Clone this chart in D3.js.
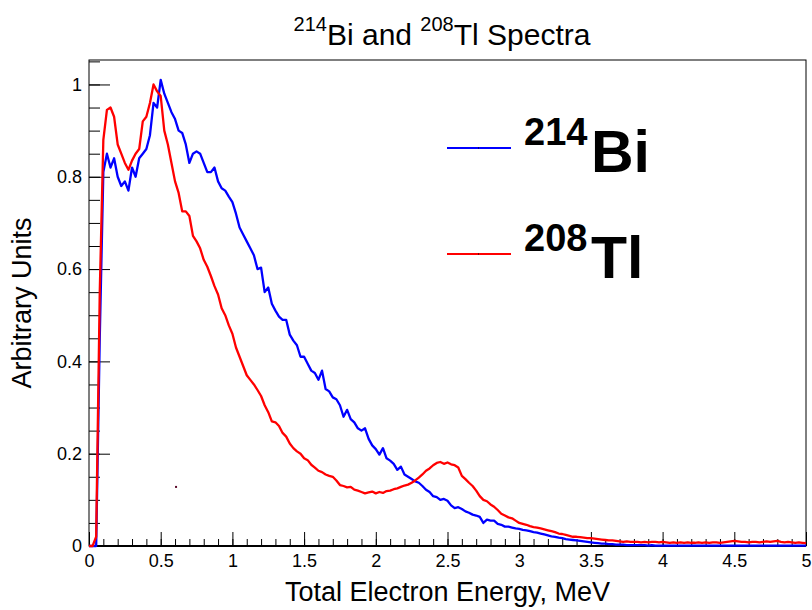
<!DOCTYPE html>
<html lang="en">
<head>
<meta charset="utf-8">
<title>214Bi and 208Tl Spectra</title>
<script src="https://cdn.jsdelivr.net/npm/d3@7"></script>
<style>
  body { margin: 0; background: #fff; }
  text { font-family: "Liberation Sans", Arial, Helvetica, sans-serif; fill: #000; }
</style>
</head>
<body>
<div id="chart"></div>
<script>
// histogram bin spacing (MeV)
const binWidth = 0.025;

// 214Bi, one value per bin starting at 0 MeV
const biValues = [
  0, 0, 0, 0.45, 0.81, 0.85, 0.82, 0.84, 0.80, 0.78,
  0.79, 0.77, 0.82, 0.80, 0.84, 0.85, 0.86, 0.89, 0.96, 0.95,
  1.01, 0.98, 0.96, 0.94, 0.925, 0.90, 0.895, 0.87, 0.83, 0.85,
  0.855, 0.85, 0.83, 0.81, 0.81, 0.82, 0.79, 0.775, 0.77, 0.757,
  0.745, 0.72, 0.69, 0.675, 0.66, 0.645, 0.63, 0.60, 0.603, 0.55,
  0.56, 0.525, 0.51, 0.497, 0.49, 0.49, 0.458, 0.445, 0.435, 0.41,
  0.41, 0.395, 0.38, 0.375, 0.36, 0.38, 0.34, 0.335, 0.322, 0.318,
  0.305, 0.28, 0.295, 0.275, 0.268, 0.255, 0.25, 0.255, 0.232, 0.218,
  0.21, 0.198, 0.212, 0.19, 0.185, 0.178, 0.165, 0.172, 0.155, 0.15,
  0.145, 0.14, 0.137, 0.13, 0.122, 0.117, 0.108, 0.106, 0.10, 0.102,
  0.098, 0.088, 0.082, 0.084, 0.08, 0.075, 0.072, 0.068, 0.066, 0.063,
  0.05, 0.057, 0.055, 0.055, 0.048, 0.046, 0.042, 0.042, 0.04, 0.038,
  0.037, 0.035, 0.034, 0.032, 0.03, 0.029, 0.027, 0.025, 0.023, 0.021,
  0.02, 0.018, 0.017, 0.015, 0.014, 0.013, 0.012, 0.011, 0.010, 0.009,
  0.008, 0.007, 0.006, 0.005, 0.005, 0.004, 0.004, 0.003, 0.003, 0.003,
  0.002, 0.002, 0.002, 0.002, 0.002, 0.002, 0.001, 0.002, 0.001, 0.001,
  0.001, 0.001, 0.001, 0.001, 0.001, 0.001, 0.001, 0.001, 0.001, 0.001,
  0.001, 0.001, 0.001, 0.001, 0.001, 0.001, 0.001, 0.001, 0.001, 0.001,
  0.001, 0.001, 0.001, 0.001, 0.001, 0.001, 0.001, 0.001, 0.001, 0.001,
  0.001, 0.001, 0.001, 0.001, 0.001, 0.001, 0.001, 0.001, 0.001, 0.001,
  0.001
];

// 208Tl
const tlValues = [
  0, 0, 0.02, 0.55, 0.88, 0.945, 0.95, 0.93, 0.87, 0.85,
  0.83, 0.815, 0.835, 0.85, 0.86, 0.92, 0.93, 0.96, 1.0, 0.985,
  0.975, 0.90, 0.87, 0.83, 0.79, 0.765, 0.725, 0.725, 0.715, 0.672,
  0.66, 0.645, 0.62, 0.605, 0.585, 0.563, 0.545, 0.515, 0.50, 0.478,
  0.46, 0.43, 0.41, 0.39, 0.37, 0.36, 0.35, 0.338, 0.325, 0.305,
  0.29, 0.27, 0.268, 0.26, 0.245, 0.237, 0.222, 0.212, 0.205, 0.20,
  0.19, 0.186, 0.176, 0.17, 0.163, 0.16, 0.155, 0.152, 0.15, 0.142,
  0.132, 0.13, 0.127, 0.128, 0.122, 0.12, 0.117, 0.114, 0.116, 0.118,
  0.114, 0.117, 0.115, 0.119, 0.12, 0.123, 0.125, 0.128, 0.131, 0.133,
  0.137, 0.142, 0.148, 0.155, 0.163, 0.168, 0.175, 0.18, 0.182, 0.178,
  0.181, 0.177, 0.175, 0.17, 0.152, 0.145, 0.137, 0.13, 0.12, 0.108,
  0.10, 0.097, 0.09, 0.085, 0.078, 0.07, 0.066, 0.062, 0.06, 0.055,
  0.05, 0.048, 0.046, 0.043, 0.041, 0.04, 0.038, 0.036, 0.034, 0.032,
  0.03, 0.027, 0.026, 0.024, 0.022, 0.02, 0.02, 0.019, 0.018, 0.017,
  0.017, 0.016, 0.015, 0.014, 0.013, 0.012, 0.012, 0.011, 0.01, 0.009,
  0.01, 0.009, 0.009, 0.009, 0.008, 0.009, 0.008, 0.009, 0.009, 0.008,
  0.009, 0.008, 0.007, 0.008, 0.007, 0.008, 0.007, 0.008, 0.007, 0.007,
  0.008, 0.007, 0.008, 0.007, 0.008, 0.008, 0.007, 0.008, 0.009, 0.01,
  0.011, 0.01, 0.009, 0.009, 0.008, 0.009, 0.009, 0.008, 0.009, 0.01,
  0.009, 0.01, 0.011, 0.009, 0.008, 0.009, 0.008, 0.007, 0.008, 0.007,
  0.006
];

const xMajor = [0, 0.5, 1, 1.5, 2, 2.5, 3, 3.5, 4, 4.5, 5];
const yMajor = [0, 0.2, 0.4, 0.6, 0.8, 1];
const legendItems = [
  { mass: "214", name: "Bi", color: "#0000ff" },
  { mass: "208", name: "Tl", color: "#ff0000" }
];
// stray marker that sits in the pad (MeV, value)
const strayMarker = [[0.607, 0.128]];

const W = 812, H = 610;
const margin = { top: 60, right: 6, bottom: 64, left: 89 };

const svg = d3.select('#chart')
  .append('svg')
  .attr('width', W)
  .attr('height', H);

const x = d3.scaleLinear().domain([0, 5]).range([margin.left, W - margin.right]);
const y = d3.scaleLinear().domain([0, 1.053]).range([H - margin.bottom, margin.top]);

// minor ticks
svg.append('g')
  .attr('transform', `translate(0,${y(0)})`)
  .call(d3.axisBottom(x).tickValues(d3.range(0, 5.001, 0.1)).tickSize(-7).tickFormat(''))
  .call(g => g.select('.domain').remove());
svg.append('g')
  .attr('transform', `translate(${x(0)},0)`)
  .call(d3.axisLeft(y).tickValues(d3.range(0, 1.051, 0.05)).tickSize(-11).tickFormat(''))
  .call(g => g.select('.domain').remove());

// major ticks + labels
const xAxis = svg.append('g')
  .attr('transform', `translate(0,${y(0)})`)
  .call(d3.axisBottom(x).tickValues(xMajor).tickSize(-14).tickPadding(8).tickFormat(d3.format('~g')))
  .call(g => g.select('.domain').remove());
xAxis.selectAll('text').style('font-size', '18px').style('font-family', '"Liberation Sans", Arial, sans-serif');

const yAxis = svg.append('g')
  .attr('transform', `translate(${x(0)},0)`)
  .call(d3.axisLeft(y).tickValues(yMajor).tickSize(-21).tickPadding(7).tickFormat(d3.format('~g')))
  .call(g => g.select('.domain').remove());
yAxis.selectAll('text').style('font-size', '18px').style('font-family', '"Liberation Sans", Arial, sans-serif');

svg.selectAll('.tick line').attr('stroke', '#000');

// frame
svg.append('rect')
  .attr('x', x(0)).attr('y', margin.top)
  .attr('width', x(5) - x(0)).attr('height', y(0) - margin.top)
  .attr('fill', 'none').attr('stroke', '#000').attr('stroke-width', 1);
svg.append('line')
  .attr('x1', x(0)).attr('x2', x(5)).attr('y1', y(0)).attr('y2', y(0))
  .attr('stroke', '#000').attr('stroke-width', 2);

// spectra
const line = d3.line()
  .x((d, i) => x(i * binWidth))
  .y(d => y(d));

[{ vals: biValues, color: '#0000ff' }, { vals: tlValues, color: '#ff0000' }].forEach(s => {
  svg.append('path')
    .datum(s.vals)
    .attr('d', line)
    .attr('fill', 'none')
    .attr('stroke', s.color)
    .attr('stroke-width', 2.3)
    .attr('stroke-linejoin', 'round');
});

svg.selectAll('.stray')
  .data(strayMarker)
  .enter()
  .append('rect')
  .attr('x', d => x(d[0]) - 1).attr('y', d => y(d[1]) - 1)
  .attr('width', 2).attr('height', 2)
  .attr('fill', '#5a0a2a');

// legend
const leg = svg.append('g');
legendItems.forEach((d, i) => {
  const ly = 148 + i * 106;
  leg.append('line')
    .attr('x1', 447).attr('x2', 511).attr('y1', ly).attr('y2', ly)
    .attr('stroke', d.color).attr('stroke-width', 2);
  leg.append('rect').attr('x', 478).attr('y', ly - 0.5).attr('width', 1).attr('height', 1).attr('fill', '#000');
  leg.append('text')
    .attr('x', 524).attr('y', ly - 3)
    .style('font-size', '38px').style('font-weight', 'bold')
    .text(d.mass);
  leg.append('text')
    .attr('x', 591).attr('y', ly + 24)
    .style('font-size', '59px').style('font-weight', 'bold')
    .text(d.name);
});

// title
const title = svg.append('text')
  .attr('x', 442).attr('y', 45)
  .attr('text-anchor', 'middle')
  .style('font-size', '30px');
title.append('tspan').attr('dy', -14).style('font-size', '20px').text('214');
title.append('tspan').attr('dy', 14).text('Bi and ');
title.append('tspan').attr('dy', -14).style('font-size', '20px').text('208');
title.append('tspan').attr('dy', 14).text('Tl Spectra');

// axis titles
svg.append('text')
  .attr('x', (x(0) + x(5)) / 2).attr('y', 601)
  .attr('text-anchor', 'middle')
  .style('font-size', '27px')
  .text('Total Electron Energy, MeV');

svg.append('text')
  .attr('transform', `translate(31,${(y(0) + margin.top) / 2}) rotate(-90)`)
  .attr('text-anchor', 'middle')
  .style('font-size', '27px')
  .text('Arbitrary Units');
</script>
</body>
</html>
